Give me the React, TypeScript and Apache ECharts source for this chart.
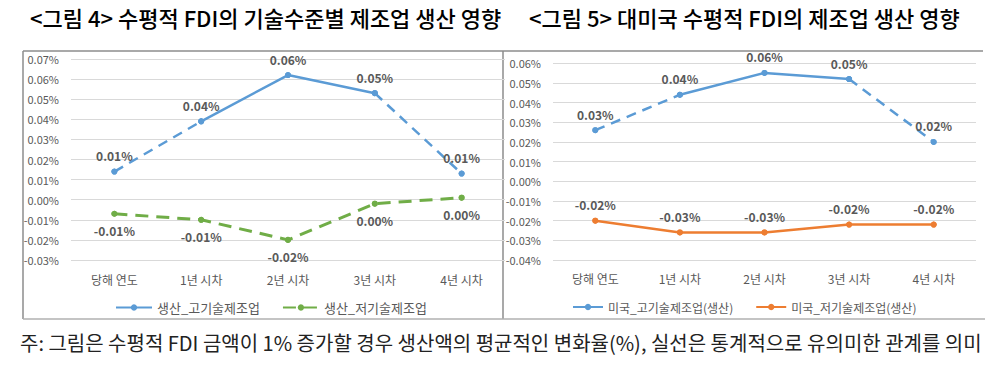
import React, { useEffect, useRef } from "react";
import * as echarts from "echarts";

const categories = ["당해 연도", "1년 시차", "2년 시차", "3년 시차", "4년 시차"];
const yTicksLeft = { min: -0.03, max: 0.07, interval: 0.01 };
const yTicksRight = { min: -0.04, max: 0.06, interval: 0.01 };

// 그림 4
const highTech = [0.014, 0.039, 0.062, 0.053, 0.013];
const lowTech = [-0.007, -0.010, -0.020, -0.002, 0.001];
// 그림 5
const usHigh = [0.026, 0.044, 0.0551, 0.052, 0.020];
const usLow = [-0.020, -0.026, -0.026, -0.022, -0.022];

const titleLeft = "<그림 4> 수평적 FDI의 기술수준별 제조업 생산 영향";
const titleRight = "<그림 5> 대미국 수평적 FDI의 제조업 생산 영향";
const legendLeft = ["생산_고기술제조업", "생산_저기술제조업"];
const legendRight = ["미국_고기술제조업(생산)", "미국_저기술제조업(생산)"];
const footnote =
  "주: 그림은 수평적 FDI 금액이 1% 증가할 경우 생산액의 평균적인 변화율(%), 실선은 통계적으로 유의미한 관계를 의미";

const FONT = "'Noto Sans CJK KR', 'Noto Sans', sans-serif";
const BLUE = "#5B9BD5";
const GREEN = "#70AD47";
const ORANGE = "#ED7D31";
const LABEL = "#595959";

const fmt = (v: number) => {
  let s = v.toFixed(2);
  if (s === "-0.00") s = "0.00";
  return s + "%";
};

const pick = (arr: number[], idx: number[]) => arr.map((v, i) => (idx.includes(i) ? v : null));

function seg(name: string, data: (number | null)[], color: string, width: number, dash: any, ax: number) {
  return {
    type: "line",
    name,
    xAxisIndex: ax,
    yAxisIndex: ax,
    data,
    symbol: "circle",
    symbolSize: 6,
    connectNulls: false,
    itemStyle: { color },
    lineStyle: { color, width, type: dash },
    emphasis: { disabled: true },
    z: 2,
  };
}

function labels(name: string, data: number[], color: string, pos: string, ax: number, dist: number) {
  return {
    type: "line",
    name,
    xAxisIndex: ax,
    yAxisIndex: ax,
    data,
    symbol: "circle",
    symbolSize: 6,
    itemStyle: { color },
    lineStyle: { opacity: 0, width: 0 },
    emphasis: { disabled: true },
    label: {
      show: true,
      position: pos,
      distance: dist,
      formatter: (p: any) => fmt(p.value),
      color: LABEL,
      fontFamily: FONT,
      fontSize: 12,
      fontWeight: "bold",
    },
    z: 3,
  };
}

function xAxis(grid: number, margin: number) {
  return {
    type: "category",
    gridIndex: grid,
    data: categories,
    boundaryGap: true,
    axisLine: { show: false },
    axisTick: { show: false },
    axisLabel: { color: LABEL, fontFamily: FONT, fontSize: 12, margin },
    splitLine: { show: false },
  };
}

function yAxis(grid: number, t: any) {
  return {
    type: "value",
    gridIndex: grid,
    min: t.min,
    max: t.max,
    interval: t.interval,
    axisLine: { show: false },
    axisTick: { show: false },
    axisLabel: { color: LABEL, fontFamily: FONT, fontSize: 11, margin: 12, formatter: (v: number) => fmt(v) },
    splitLine: { lineStyle: { color: "#d9d9d9", width: 1 } },
  };
}

export default function App() {
  const ref = useRef<HTMLDivElement>(null);
  useEffect(() => {
    const chart = echarts.init(ref.current!, undefined, { renderer: "svg" });
    const border = { stroke: "#8c8c8c", lineWidth: 1.5 };
    chart.setOption({
      animation: false,
      textStyle: { fontFamily: FONT },
      grid: [
        { left: 71, top: 59, width: 434, height: 201 },
        { left: 553, top: 63.3, width: 423, height: 196.7 },
      ],
      xAxis: [xAxis(0, 13), xAxis(1, 12)],
      yAxis: [yAxis(0, yTicksLeft), yAxis(1, yTicksRight)],
      legend: [
        {
          data: legendLeft,
          left: 110,
          top: 296,
          itemWidth: 36,
          itemHeight: 8,
          itemGap: 22,
          textStyle: { color: LABEL, fontFamily: FONT, fontSize: 13 },
          selectedMode: false,
        },
        {
          data: legendRight,
          left: 567,
          top: 296,
          itemWidth: 30,
          itemHeight: 8,
          itemGap: 22,
          textStyle: { color: LABEL, fontFamily: FONT, fontSize: 12 },
          selectedMode: false,
        },
      ],
      series: [
        seg(legendLeft[0], pick(highTech, [1, 2, 3]), BLUE, 2.5, "solid", 0),
        seg(legendLeft[0], pick(highTech, [0, 1, 3, 4]), BLUE, 2.5, [10, 7], 0),
        labels("_l_high", highTech, BLUE, "top", 0, 7),
        seg(legendLeft[1], lowTech, GREEN, 3, [13, 8], 0),
        labels("_l_low", lowTech, GREEN, "bottom", 0, 8),
        seg(legendRight[0], pick(usHigh, [1, 2, 3]), BLUE, 2.5, "solid", 1),
        seg(legendRight[0], pick(usHigh, [0, 1, 3, 4]), BLUE, 2.5, [10, 7], 1),
        labels("_r_high", usHigh, BLUE, "top", 1, 7),
        seg(legendRight[1], usLow, ORANGE, 2.5, "solid", 1),
        labels("_r_low", usLow, ORANGE, "top", 1, 7),
      ],
      graphic: [
        { type: "text", left: 30, top: 6, style: { text: titleLeft, font: `500 22px ${FONT}`, fill: "#000" } },
        { type: "text", left: 529, top: 6, style: { text: titleRight, font: `500 22px ${FONT}`, fill: "#000" } },
        { type: "line", shape: { x1: 23, y1: 51, x2: 983, y2: 51 }, style: border },
        { type: "line", shape: { x1: 23, y1: 51, x2: 23, y2: 319 }, style: border },
        { type: "line", shape: { x1: 503, y1: 51, x2: 503, y2: 319 }, style: border },
        { type: "line", shape: { x1: 23, y1: 319, x2: 985, y2: 319 }, style: { stroke: "#b0b0b0", lineWidth: 1.5 } },
        { type: "text", left: 20, top: 332, style: { text: footnote, font: `20px ${FONT}`, fill: "#222" } },
      ],
    });
    return () => chart.dispose();
  }, []);
  return <div ref={ref} style={{ position: "absolute", left: 0, top: 0, width: 993, height: 366 }} />;
}
